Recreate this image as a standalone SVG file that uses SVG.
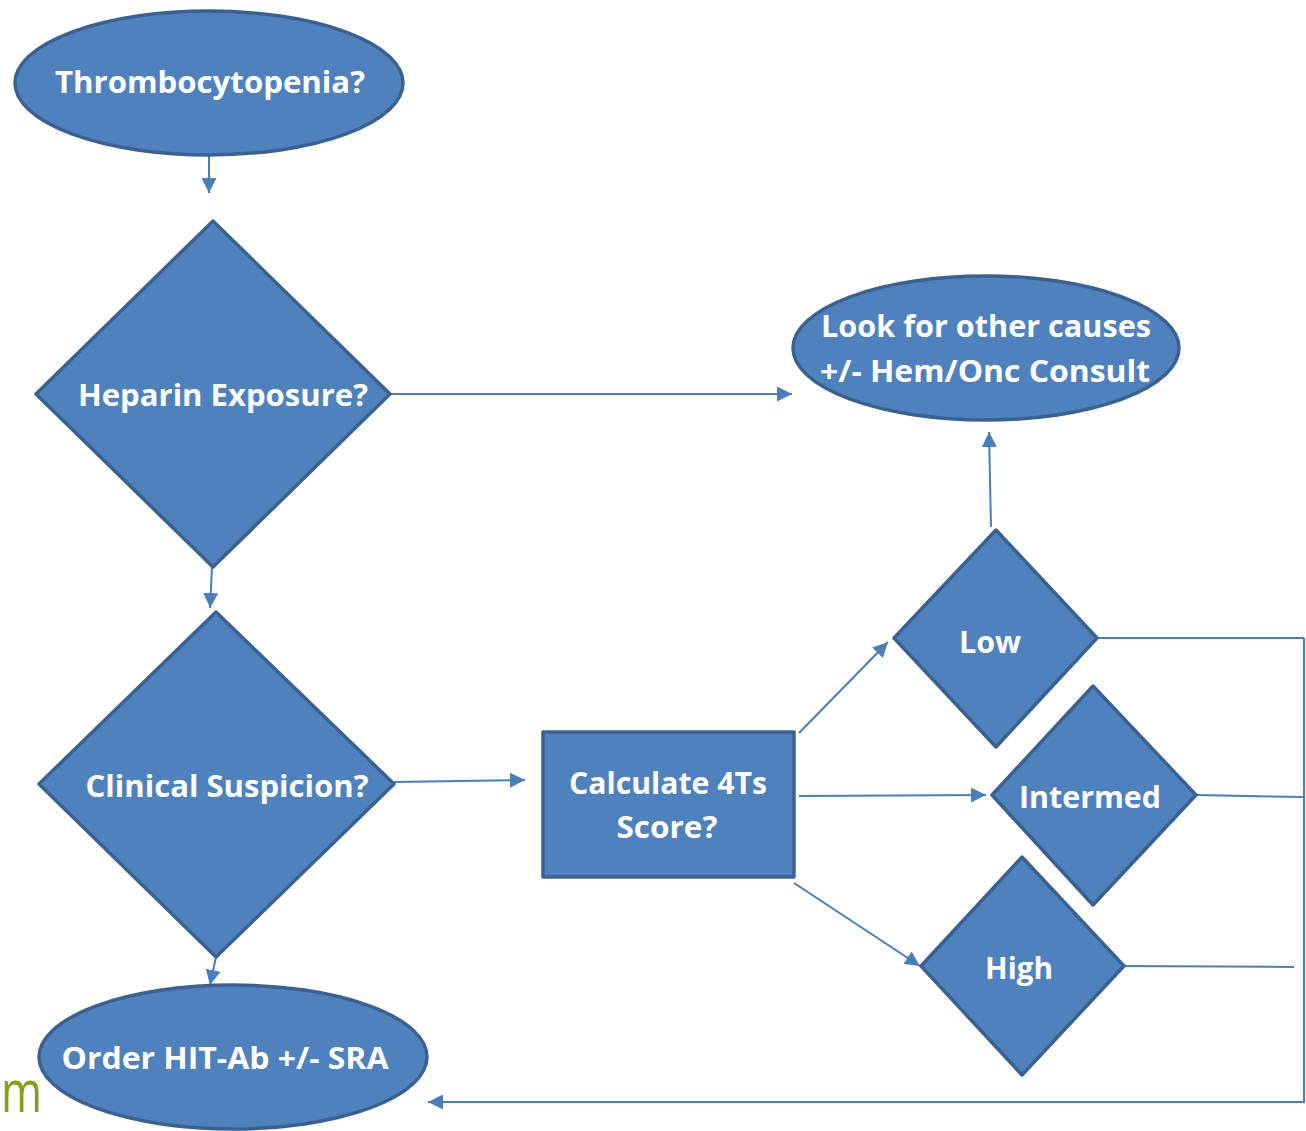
<svg xmlns="http://www.w3.org/2000/svg" width="1306" height="1131" viewBox="0 0 1306 1131">
<style>
.n{fill:#4f81bd;stroke:#3b6192;stroke-width:3.5;stroke-linejoin:round}
.t{fill:#ffffff;font-family:"Open Sans","Liberation Sans",sans-serif;font-weight:bold;font-size:30px;text-anchor:middle}
.c{fill:none;stroke:#4a7ebb;stroke-width:2}
</style>
<defs>
<marker id="a" viewBox="0 0 10 10" refX="10" refY="5" markerWidth="7.5" markerHeight="7.5" markerUnits="strokeWidth" orient="auto">
<path d="M0,0 L10,5 L0,10 Z" fill="#4a7ebb"/>
</marker>
</defs>
<rect width="1306" height="1131" fill="#ffffff"/>
<text x="1" y="1112" font-family="'Open Sans','Liberation Sans',sans-serif" font-size="58" fill="#7fa21e" textLength="41" lengthAdjust="spacingAndGlyphs">m</text>
<g id="connectors">
<path class="c" d="M209,156 L209,193" marker-end="url(#a)"/>
<path class="c" d="M212,567 L210,608" marker-end="url(#a)"/>
<path class="c" d="M216,957 L210,985" marker-end="url(#a)"/>
<path class="c" d="M390,394 L792,394" marker-end="url(#a)"/>
<path class="c" d="M394,782 L525,780" marker-end="url(#a)"/>
<path class="c" d="M799,733 L888,642" marker-end="url(#a)"/>
<path class="c" d="M991,527 L989,432" marker-end="url(#a)"/>
<path class="c" d="M799,796 L986,795" marker-end="url(#a)"/>
<path class="c" d="M794,883 L920,966" marker-end="url(#a)"/>
<path class="c" d="M1097,638 L1304,638"/>
<path class="c" d="M1196,795 L1303,797"/>
<path class="c" d="M1124,966 L1294,967"/>
<path class="c" d="M1304,638 L1304,1102 L428,1102" marker-end="url(#a)"/>
</g>
<g id="n1">
<ellipse class="n" cx="209" cy="83" rx="194" ry="72"/>
<text class="t" x="210" y="93" textLength="310" lengthAdjust="spacingAndGlyphs">Thrombocytopenia?</text>
</g>
<g id="n2">
<path class="n" d="M213,221 L390,394 L213,567 L36,394 Z"/>
<text class="t" x="223" y="406" textLength="290" lengthAdjust="spacingAndGlyphs">Heparin Exposure?</text>
</g>
<g id="n3">
<path class="n" d="M216,612 L394,784 L216,957 L39,784 Z"/>
<text class="t" x="227" y="797" textLength="283" lengthAdjust="spacingAndGlyphs">Clinical Suspicion?</text>
</g>
<g id="n4">
<ellipse class="n" cx="233" cy="1057" rx="194" ry="72"/>
<text class="t" x="225" y="1069" textLength="327" lengthAdjust="spacingAndGlyphs">Order HIT-Ab +/- SRA</text>
</g>
<g id="n5">
<ellipse class="n" cx="986" cy="348" rx="193" ry="72"/>
<text class="t" x="986" y="337" textLength="330" lengthAdjust="spacingAndGlyphs">Look for other causes</text>
<text class="t" x="985" y="382" textLength="330" lengthAdjust="spacingAndGlyphs">+/- Hem/Onc Consult</text>
</g>
<g id="n6">
<rect class="n" x="543" y="732" width="251" height="145"/>
<text class="t" x="668" y="794" textLength="198" lengthAdjust="spacingAndGlyphs">Calculate 4Ts</text>
<text class="t" x="667" y="838" textLength="101" lengthAdjust="spacingAndGlyphs">Score?</text>
</g>
<g id="n7">
<path class="n" d="M996,530 L1097,638 L996,747 L894,638 Z"/>
<text class="t" x="990" y="653" textLength="62" lengthAdjust="spacingAndGlyphs">Low</text>
</g>
<g id="n8">
<path class="n" d="M1093,686 L1196,795 L1093,905 L992,795 Z"/>
<text class="t" x="1090" y="808" textLength="142" lengthAdjust="spacingAndGlyphs">Intermed</text>
</g>
<g id="n9">
<path class="n" d="M1022,857 L1124,966 L1022,1075 L921,966 Z"/>
<text class="t" x="1019" y="979" textLength="68" lengthAdjust="spacingAndGlyphs">High</text>
</g>
</svg>
